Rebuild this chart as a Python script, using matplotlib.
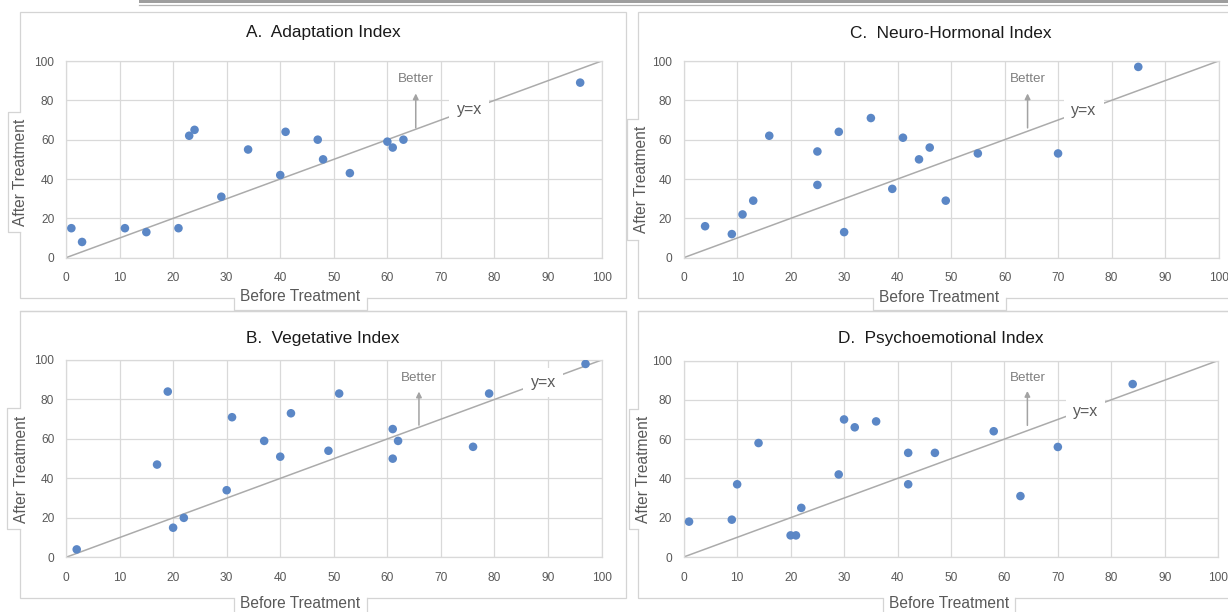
import matplotlib
matplotlib.use("Agg")
import matplotlib.pyplot as plt
from matplotlib.patches import Rectangle
from matplotlib.lines import Line2D
import numpy as np

plt.rcParams['font.family'] = ['Liberation Sans', 'DejaVu Sans']

# ---------------- data ----------------
titles = ["A.  Adaptation Index", "C.  Neuro-Hormonal Index",
          "B.  Vegetative Index", "D.  Psychoemotional Index"]

adapt_before = [1, 3, 11, 15, 21, 23, 24, 29, 34, 40, 41, 47, 48, 53, 60, 61, 63, 96]
adapt_after = [15, 8, 15, 13, 15, 62, 65, 31, 55, 42, 64, 60, 50, 43, 59, 56, 60, 89]

neuro_before = [4, 9, 11, 13, 16, 25, 25, 29, 30, 35, 39, 41, 44, 46, 49, 55, 70, 85]
neuro_after = [16, 12, 22, 29, 62, 54, 37, 64, 13, 71, 35, 61, 50, 56, 29, 53, 53, 97]

veg_before = [2, 17, 19, 20, 22, 30, 31, 37, 40, 42, 49, 51, 61, 62, 61, 76, 79, 97]
veg_after = [4, 47, 84, 15, 20, 34, 71, 59, 51, 73, 54, 83, 65, 59, 50, 56, 83, 98]

psy_before = [1, 9, 10, 14, 20, 21, 22, 29, 30, 32, 36, 42, 42, 47, 58, 63, 70, 84]
psy_after = [18, 19, 37, 58, 11, 11, 25, 42, 70, 66, 69, 53, 37, 53, 64, 31, 56, 88]

xticks = list(range(0, 101, 10))
yticks = list(range(0, 101, 20))
x_label = "Before Treatment"
y_label = "After Treatment"
better_label = "Better"
ref_label = "y=x"

series = [(adapt_before, adapt_after), (neuro_before, neuro_after),
          (veg_before, veg_after), (psy_before, psy_after)]

# ---------------- layout (pixels) ----------------
W, H = 1228, 612
fig = plt.figure(figsize=(W / 100, H / 100), dpi=100)
fig.patch.set_facecolor("white")

def fx(px):
    return px / W

def fy(py):
    return 1 - py / H

# axes boxes: left, right, top, bottom in px
axes_px = [(66, 601.6, 61, 257.7), (683.7, 1218.5, 61, 257.7),
           (66, 601.6, 360, 557.3), (683.7, 1218.2, 360.5, 557)]
# frames: left, top, right, bottom
frames_px = [(20, 12, 626, 298), (638, 12, 1245, 298),
             (20, 311, 626, 598), (638, 311, 1245, 598)]
title_px = [(323, 33), (951, 33), (323, 338), (941, 338)]
# y-label box: box_left, top, bottom, text_x, text_y
ylab_px = [(8, 112, 232, 21, 172), (627, 119, 240, 641, 179),
           (7, 408, 529, 22, 469), (629, 409, 529, 643, 469)]
# x-label box: left, right, bottom, text_x, text_y
xlab_px = [(234, 367, 310, 300, 296), (873, 1006, 310, 939.5, 297),
           (234, 367, 625, 300, 604), (883, 1015, 625, 949, 604)]
# annotation positions in data units: better_x, better_y, arrow_y0, arrow_y1, ref_x, ref_y
annot = [(65.3, 90.8, 66, 83.5, 75.3, 75.2),
         (64.3, 90.8, 66, 83.5, 74.8, 75.0),
         (65.9, 91.0, 67, 84.0, 89.1, 88.6),
         (64.3, 91.3, 67, 84.5, 75.2, 74.0)]

frame_col = "#D4D4D4"
grid_col = "#D9D9D9"
dot_col = "#5B87C6"
text_gray = "#595959"

# top decorative bar
fig.add_artist(Rectangle((fx(139), fy(3.2)), fx(W) - fx(139), fy(0) - fy(3.2),
                         transform=fig.transFigure, facecolor="#9E9E9E",
                         edgecolor="none", zorder=1))
fig.add_artist(Line2D([fx(139), fx(W)], [fy(4.6), fy(4.6)], transform=fig.transFigure,
                      color="#B5B5B5", lw=0.9, zorder=1))

for i, (xs, ys) in enumerate(series):
    l, r, t, b = axes_px[i]
    ax = fig.add_axes([fx(l), fy(b), fx(r) - fx(l), fy(t) - fy(b)])
    ax.set_facecolor("white")
    ax.set_xlim(0, 100)
    ax.set_ylim(0, 100)
    ax.set_xticks(xticks)
    ax.set_yticks(yticks)
    ax.grid(True, color=grid_col, lw=0.9)
    ax.set_axisbelow(True)
    for sp in ax.spines.values():
        sp.set_color(grid_col)
        sp.set_linewidth(0.9)
    ax.tick_params(length=0, labelsize=8.6, labelcolor=text_gray)
    ax.tick_params(axis="x", pad=10.5)
    ax.tick_params(axis="y", pad=8.5)

    ref = np.array([0, 100])
    ax.plot(ref, ref, color="#ABABAB", lw=1.1, zorder=2)
    ax.scatter(xs, ys, s=38, color=dot_col, edgecolors="none", zorder=4)

    bx, by, ay0, ay1, rx, ry = annot[i]
    ax.text(bx, by, better_label, ha="center", va="center", fontsize=9.6,
            color="#7F7F7F", zorder=5)
    ax.annotate("", xy=(bx, ay1), xytext=(bx, ay0),
                arrowprops=dict(arrowstyle="-|>", color="#A3A3A3", lw=1.1,
                                mutation_scale=8, shrinkA=0, shrinkB=0), zorder=5)
    ax.text(rx, ry, ref_label, ha="center", va="center", fontsize=11.5,
            color=text_gray, zorder=5,
            bbox=dict(boxstyle="square,pad=0.45", facecolor="white", edgecolor="none"))

    # frame
    fl, ft, fr, fb = frames_px[i]
    fig.add_artist(Rectangle((fx(fl), fy(fb)), fx(fr) - fx(fl), fy(ft) - fy(fb),
                             transform=fig.transFigure, facecolor="none",
                             edgecolor=frame_col, lw=0.9, zorder=1))
    # title
    tx, ty = title_px[i]
    fig.text(fx(tx), fy(ty), titles[i], ha="center", va="center", fontsize=12.4,
             color="#1A1A1A")

    # y-label box
    bl, bt, bb, ltx, lty = ylab_px[i]
    fig.add_artist(Rectangle((fx(bl), fy(bb)), fx(fl + 4) - fx(bl), fy(bt) - fy(bb),
                             transform=fig.transFigure, facecolor="white",
                             edgecolor="none", zorder=2))
    fig.add_artist(Line2D([fx(fl), fx(bl), fx(bl), fx(fl)],
                          [fy(bt), fy(bt), fy(bb), fy(bb)],
                          transform=fig.transFigure, color=frame_col, lw=0.9, zorder=3))
    fig.text(fx(ltx), fy(lty), y_label, rotation=90, ha="center", va="center",
             fontsize=11.2, color=text_gray, zorder=4)

    # x-label box
    xl, xr, xb, xtx, xty = xlab_px[i]
    fig.add_artist(Rectangle((fx(xl), fy(xb)), fx(xr) - fx(xl), fy(fb - 4) - fy(xb),
                             transform=fig.transFigure, facecolor="white",
                             edgecolor="none", zorder=2))
    fig.add_artist(Line2D([fx(xl), fx(xl), fx(xr), fx(xr)],
                          [fy(fb), fy(xb), fy(xb), fy(fb)],
                          transform=fig.transFigure, color=frame_col, lw=0.9, zorder=3))
    fig.text(fx(xtx), fy(xty), x_label, ha="center", va="center",
             fontsize=11.2, color=text_gray, zorder=4)

# redraw top frame lines of lower panels over upper x-label boxes
for i in (2, 3):
    fl, ft, fr, fb = frames_px[i]
    fig.add_artist(Line2D([fx(fl), fx(fr)], [fy(ft), fy(ft)], transform=fig.transFigure,
                          color=frame_col, lw=0.9, zorder=3))

fig.savefig("out.png", dpi=100, facecolor="white")
